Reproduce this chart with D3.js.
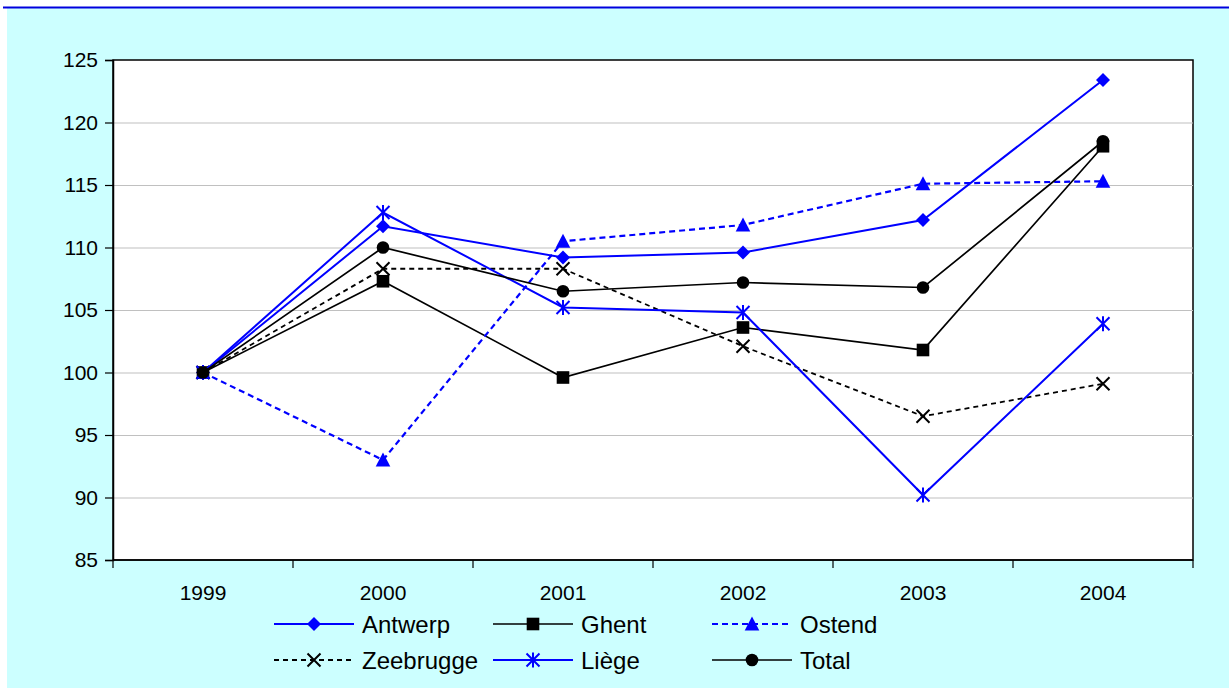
<!DOCTYPE html>
<html>
<head>
<meta charset="utf-8">
<script src="https://cdn.jsdelivr.net/npm/d3@7"></script>
<style>
  html, body { margin: 0; padding: 0; background: #ffffff; }
  svg { display: block; font-family: "Liberation Sans", Arial, sans-serif; }
</style>
</head>
<body>
<svg id="chart" width="1229" height="688"></svg>
<script>
// Index values (1999 = 100)
const years = ["1999", "2000", "2001", "2002", "2003", "2004"];
const antwerp   = [100, 111.7, 109.2, 109.6, 112.2, 123.4];
const ghent     = [100, 107.3, 99.6, 103.6, 101.8, 118.1];
const ostend    = [100, 93.0, 110.5, 111.8, 115.1, 115.3];
const zeebrugge = [100, 108.3, 108.3, 102.1, 96.5, 99.1];
const liege     = [100, 112.8, 105.2, 104.8, 90.2, 103.9];
const total     = [100, 110.0, 106.5, 107.2, 106.8, 118.5];
const yTicks    = [85, 90, 95, 100, 105, 110, 115, 120, 125];

const series = [
  { name: "Antwerp",   values: antwerp,   color: "#0000ff", dash: null,  marker: "diamond", width: 2 },
  { name: "Ghent",     values: ghent,     color: "#000000", dash: null,  marker: "square",  width: 1.7 },
  { name: "Ostend",    values: ostend,    color: "#0000ff", dash: "6,4", marker: "triangle", width: 2.2 },
  { name: "Zeebrugge", values: zeebrugge, color: "#000000", dash: "5,4", marker: "x",       width: 1.8 },
  { name: "Liège",     values: liege,     color: "#0000ff", dash: null,  marker: "star",    width: 2 },
  { name: "Total",     values: total,     color: "#000000", dash: null,  marker: "circle",  width: 1.7 }
];

const svg = d3.select("#chart");
const W = 1229, H = 688;

// Background panel with blue top rule
svg.append("rect").attr("x", 7).attr("y", 7).attr("width", W - 7).attr("height", H - 7)
  .attr("fill", "#ccffff");
svg.append("line").attr("x1", 3).attr("x2", W).attr("y1", 7.5).attr("y2", 7.5)
  .attr("stroke", "#0000dd").attr("stroke-width", 2);

const plot = { left: 113, right: 1193, top: 60, bottom: 560 };

const x = d3.scaleBand().domain(years).range([plot.left, plot.right]).padding(0);
const y = d3.scaleLinear().domain([85, 125]).range([plot.bottom, plot.top]);

// Plot area
svg.append("rect")
  .attr("x", plot.left).attr("y", plot.top)
  .attr("width", plot.right - plot.left).attr("height", plot.bottom - plot.top)
  .attr("fill", "#ffffff").attr("stroke", "#000000").attr("stroke-width", 1.5);

// Gridlines
svg.append("g").selectAll("line")
  .data(yTicks.filter(t => t !== 85 && t !== 125))
  .join("line")
  .attr("x1", plot.left).attr("x2", plot.right)
  .attr("y1", d => y(d) + 0.5).attr("y2", d => y(d) + 0.5)
  .attr("stroke", "#c0c0c0").attr("stroke-width", 1.2);

// Y axis
const yAxis = svg.append("g")
  .attr("transform", `translate(${plot.left},0)`)
  .call(d3.axisLeft(y).tickValues(yTicks).tickSize(8).tickPadding(7).tickFormat(d3.format("d")));
yAxis.select(".domain").attr("stroke", "#000").attr("stroke-width", 1.5);
yAxis.selectAll(".tick line").attr("stroke", "#000").attr("stroke-width", 1.2);
yAxis.selectAll(".tick text").attr("font-size", 21).attr("fill", "#000")
  .attr("font-family", "Liberation Sans, Arial, sans-serif");

// X axis: ticks sit on category boundaries, labels at band centres
const xAxisG = svg.append("g").attr("transform", `translate(0,${plot.bottom})`);
xAxisG.append("line").attr("x1", plot.left).attr("x2", plot.right)
  .attr("stroke", "#000").attr("stroke-width", 1.5);
const boundaries = years.map(yr => x(yr)).concat([x(years[years.length - 1]) + x.bandwidth()]);
xAxisG.selectAll("line.tk").data(boundaries).join("line").attr("class", "tk")
  .attr("x1", d => d).attr("x2", d => d).attr("y1", 0).attr("y2", 8)
  .attr("stroke", "#000").attr("stroke-width", 1.2);
xAxisG.selectAll("text").data(years).join("text")
  .attr("x", d => x(d) + x.bandwidth() / 2).attr("y", 40)
  .attr("text-anchor", "middle").attr("font-size", 21).attr("fill", "#000")
  .text(d => d);

// Marker drawing
function drawMarker(g, type, color, cx, cy) {
  if (type === "diamond") {
    g.append("path").attr("d", `M${cx},${cy - 7}L${cx + 7},${cy}L${cx},${cy + 7}L${cx - 7},${cy}Z`)
      .attr("fill", color);
  } else if (type === "square") {
    g.append("rect").attr("x", cx - 6.3).attr("y", cy - 6.3).attr("width", 12.6).attr("height", 12.6)
      .attr("fill", color);
  } else if (type === "triangle") {
    g.append("path").attr("d", `M${cx},${cy - 7.5}L${cx + 7.3},${cy + 6.5}L${cx - 7.3},${cy + 6.5}Z`)
      .attr("fill", color);
  } else if (type === "circle") {
    g.append("circle").attr("cx", cx).attr("cy", cy).attr("r", 6.3).attr("fill", color);
  } else if (type === "x") {
    g.append("path").attr("d", `M${cx - 6.5},${cy - 6.5}L${cx + 6.5},${cy + 6.5}M${cx - 6.5},${cy + 6.5}L${cx + 6.5},${cy - 6.5}`)
      .attr("stroke", color).attr("stroke-width", 2).attr("fill", "none");
  } else if (type === "star") {
    g.append("path").attr("d", `M${cx - 6.5},${cy - 6.5}L${cx + 6.5},${cy + 6.5}M${cx - 6.5},${cy + 6.5}L${cx + 6.5},${cy - 6.5}M${cx},${cy - 7.5}L${cx},${cy + 7.5}`)
      .attr("stroke", color).attr("stroke-width", 2).attr("fill", "none");
  }
}

const line = d3.line()
  .x((d, i) => x(years[i]) + x.bandwidth() / 2)
  .y(d => y(d));

const linesG = svg.append("g");
series.forEach(s => {
  const g = linesG.append("g");
  g.append("path").datum(s.values).attr("d", line)
    .attr("fill", "none").attr("stroke", s.color).attr("stroke-width", s.width)
    .attr("stroke-dasharray", s.dash);
  s.values.forEach((v, i) => drawMarker(g, s.marker, s.color, x(years[i]) + x.bandwidth() / 2, y(v)));
});

// Legend: three columns, two rows
const legendCols = [274, 493, 712];
const legendRows = [624, 660];
const legend = svg.append("g");
series.forEach((s, i) => {
  const lx = legendCols[i % 3], ly = legendRows[Math.floor(i / 3)];
  const g = legend.append("g");
  g.append("line").attr("x1", lx).attr("x2", lx + 80).attr("y1", ly).attr("y2", ly)
    .attr("stroke", s.color).attr("stroke-width", s.width).attr("stroke-dasharray", s.dash);
  drawMarker(g, s.marker, s.color, lx + 40, ly);
  g.append("text").attr("x", lx + 88).attr("y", ly + 8.5)
    .attr("font-size", 24).attr("fill", "#000").text(s.name);
});
</script>
</body>
</html>
